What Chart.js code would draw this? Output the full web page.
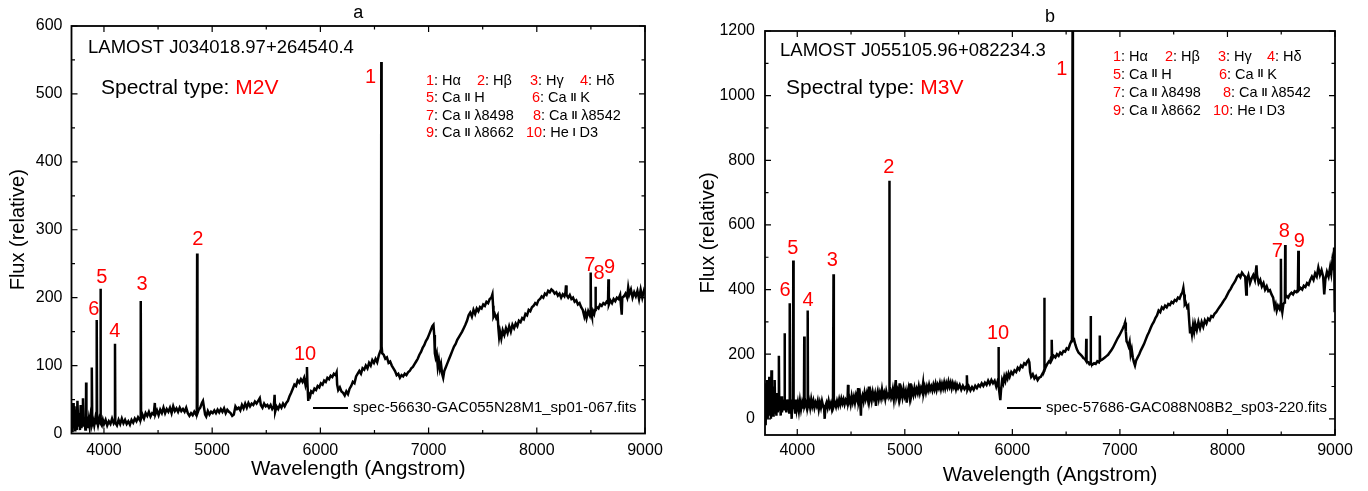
<!DOCTYPE html>
<html>
<head>
<meta charset="utf-8">
<script src="https://cdn.jsdelivr.net/npm/chart.js@4.4.1/dist/chart.umd.min.js"></script>
<style>
  html, body { margin: 0; padding: 0; background: #fff; }
  #wrap { position: relative; width: 1368px; height: 491px; }
  canvas { position: absolute; top: 0; }
  #chartA { left: 0; }
  #chartB { left: 684px; }
</style>
</head>
<body>
<div id="wrap">
  <canvas id="chartA" width="684" height="491"></canvas>
  <canvas id="chartB" width="684" height="491"></canvas>
</div>
<script>
// ── Data ────────────────────────────────────────────────────────────────
const X_MAJOR = [4000, 5000, 6000, 7000, 8000, 9000];
const X_MINOR = [4500, 5500, 6500, 7500, 8500];
const Y_MAJOR_A = [0, 100, 200, 300, 400, 500, 600];
const Y_MINOR_A = [50, 150, 250, 350, 450, 550];
const Y_MAJOR_B = [0, 200, 400, 600, 800, 1000, 1200];
const Y_MINOR_B = [100, 300, 500, 700, 900, 1100];

// Panel a: LAMOST J034018.97+264540.4
const waveA = [
  3700, 3705, 3710, 3715, 3720, 3728, 3735, 3742, 3748, 3755, 3762, 3770, 3778, 3785, 3792, 3800,
  3806, 3812, 3820, 3828, 3833, 3835, 3838, 3845, 3852, 3860, 3868, 3875, 3882, 3886, 3889, 3892,
  3900, 3910, 3920, 3928, 3932, 3934, 3937, 3945, 3955, 3962, 3966, 3968, 3971, 3980, 3990,
  4000, 4015, 4030, 4045, 4060, 4075, 4090, 4100, 4102, 4105, 4120, 4135, 4150, 4165, 4180, 4195,
  4210, 4225, 4240, 4255, 4270, 4285, 4300, 4315, 4330, 4338, 4340, 4343, 4355, 4370, 4385,
  4400, 4415, 4430, 4445, 4460, 4470, 4475, 4490, 4505, 4520, 4535, 4550, 4565, 4580, 4595,
  4610, 4625, 4640, 4655, 4670, 4685, 4700, 4715, 4730, 4745, 4760, 4775, 4790, 4805, 4820, 4835,
  4850, 4858, 4861, 4864, 4875, 4890, 4905, 4915, 4925, 4935, 4945, 4960, 4975, 4990,
  5005, 5020, 5035, 5050, 5065, 5080, 5095, 5110, 5125, 5140, 5155, 5170, 5185, 5200, 5215, 5230,
  5245, 5260, 5275, 5290, 5305, 5320, 5335, 5350, 5365, 5380, 5395, 5410, 5425, 5440, 5450, 5465,
  5480, 5495, 5510, 5525, 5540, 5555, 5570, 5577, 5582, 5595, 5610, 5625, 5640, 5655, 5670, 5685,
  5700, 5715, 5730, 5745, 5760, 5775, 5790, 5805, 5820, 5835, 5850, 5862, 5872, 5876, 5880, 5888,
  5895, 5905, 5915, 5930, 5945, 5960, 5975, 5990, 6005, 6020, 6035, 6050, 6065, 6080, 6095, 6110,
  6125, 6140, 6150, 6155, 6165, 6180, 6195, 6210, 6225, 6240, 6255, 6270, 6285, 6300, 6315, 6330,
  6345, 6360, 6375, 6390, 6405, 6420, 6435, 6450, 6465, 6480, 6495, 6510, 6525, 6540, 6555, 6560,
  6563, 6566, 6572, 6585, 6600, 6615, 6630, 6645, 6660, 6675, 6690, 6705, 6720, 6735, 6750, 6765,
  6780, 6795, 6810, 6825, 6840, 6855, 6870, 6885, 6900, 6915, 6930, 6945, 6960, 6975, 6990, 7005,
  7020, 7035, 7045, 7052, 7058, 7065, 7075, 7085, 7095, 7105, 7115, 7125, 7135, 7145, 7160, 7175,
  7190, 7205, 7220, 7235, 7250, 7265, 7280, 7295, 7310, 7325, 7340, 7355, 7370, 7385, 7400, 7415,
  7430, 7445, 7460, 7475, 7490, 7505, 7520, 7535, 7550, 7565, 7580, 7590, 7596, 7600, 7612, 7625,
  7638, 7645, 7652, 7660, 7672, 7685, 7700, 7715, 7730, 7745, 7760, 7775, 7790, 7805, 7820, 7835,
  7850, 7865, 7880, 7895, 7910, 7925, 7940, 7955, 7970, 7985, 8000, 8015, 8030, 8045, 8060, 8075,
  8090, 8105, 8120, 8135, 8150, 8165, 8180, 8195, 8210, 8225, 8240, 8255, 8265, 8270, 8275, 8290,
  8305, 8320, 8335, 8350, 8365, 8380, 8395, 8410, 8425, 8440, 8450, 8460, 8475, 8490, 8496, 8498,
  8501, 8510, 8520, 8530, 8538, 8542, 8546, 8555, 8570, 8585, 8600, 8615, 8630, 8645, 8658, 8662,
  8666, 8680, 8695, 8710, 8725, 8740, 8755, 8770, 8785, 8790, 8805, 8820, 8835, 8845, 8855, 8870,
  8885, 8900, 8915, 8930, 8945, 8960, 8975, 8990, 9000
];
const fluxA = [
  5, 30, 2, 45, 8, 40, 3, 35, 5, 48, 10, 30, 5, 42, 8, 28,
  52, 10, 22, 6, 15, 75, 12, 25, 8, 20, 10, 22, 12, 18, 97, 15,
  20, 12, 22, 15, 20, 167, 18, 12, 20, 14, 18, 213, 15, 12, 20,
  14, 20, 12, 18, 14, 22, 15, 18, 132, 16, 12, 20, 14, 22, 15, 20,
  14, 18, 13, 20, 16, 22, 18, 24, 20, 24, 195, 22, 28, 22, 30,
  26, 32, 25, 30, 28, 45, 28, 34, 27, 35, 30, 38, 30, 36, 32,
  38, 30, 40, 33, 37, 32, 38, 33, 36, 32, 38, 30, 26, 30, 27, 32,
  28, 32, 265, 30, 35, 38, 45, 48, 38, 28, 25, 33, 28, 32,
  30, 34, 30, 35, 31, 36, 32, 37, 30, 35, 32, 30, 26, 28, 40, 36,
  38, 34, 42, 37, 44, 38, 45, 40, 44, 42, 47, 44, 48, 52, 42, 38,
  44, 40, 42, 38, 42, 36, 40, 57, 32, 40, 36, 42, 38, 44, 40, 45,
  48, 55, 60, 66, 72, 70, 78, 75, 80, 76, 82, 72, 80, 98, 75, 48,
  58, 55, 62, 60, 66, 64, 70, 68, 74, 72, 78, 76, 82, 80, 85, 83,
  88, 86, 90, 72, 64, 68, 62, 60, 56, 62, 58, 66, 70, 76, 74, 84,
  88, 92, 88, 96, 94, 100, 96, 104, 100, 108, 104, 110, 105, 115, 122, 126,
  547, 128, 118, 116, 110, 112, 104, 106, 100, 96, 92, 86, 88, 82, 86, 84,
  88, 86, 90, 92, 96, 98, 102, 106, 110, 116, 120, 126, 130, 136, 140, 146,
  152, 158, 160, 145, 118, 112, 118, 98, 108, 95, 102, 88, 82, 92, 98, 104,
  110, 116, 122, 128, 132, 138, 142, 146, 150, 155, 160, 166, 174, 178, 172, 182,
  176, 184, 180, 186, 184, 190, 188, 194, 192, 198, 200, 205, 188, 172, 176, 170,
  174, 155, 142, 150, 140, 152, 145, 155, 148, 158, 150, 160, 155, 162, 158, 166,
  164, 170, 168, 176, 174, 182, 180, 186, 188, 192, 190, 196, 198, 202, 200, 206,
  204, 210, 208, 212, 210, 206, 208, 203, 206, 200, 205, 202, 208, 218, 204, 200,
  204, 198, 200, 194, 196, 190, 192, 186, 182, 172, 178, 170, 180, 174, 180, 237,
  178, 172, 180, 176, 182, 216, 184, 186, 184, 190, 188, 192, 190, 194, 192, 227,
  190, 196, 192, 198, 195, 200, 198, 204, 175, 200, 202, 206, 200, 215, 205, 212,
  200, 208, 202, 210, 198, 212, 200, 210, 205
];

// Panel b: LAMOST J055105.96+082234.3
const waveB = [
  3700, 3704, 3708, 3712, 3716, 3720, 3725, 3730, 3735, 3740, 3745, 3750, 3755, 3760, 3765, 3770,
  3775, 3780, 3785, 3790, 3795, 3800, 3806, 3812, 3818, 3824, 3828, 3830, 3833, 3840, 3846, 3852,
  3858, 3864, 3870, 3876, 3880, 3882, 3885, 3892, 3898, 3905, 3912, 3918, 3925, 3929, 3931, 3934,
  3942, 3948, 3954, 3960, 3963, 3966, 3972, 3980, 3988, 3995, 4005, 4015, 4025, 4035, 4045, 4055,
  4062, 4065, 4068, 4078, 4088, 4094, 4097, 4100, 4110, 4120, 4130, 4140, 4150, 4160, 4170, 4180,
  4190, 4200, 4210, 4220, 4230, 4240, 4250, 4255, 4262, 4272, 4282, 4292, 4302, 4312, 4322, 4332,
  4337, 4340, 4350, 4360, 4370, 4380, 4390, 4400, 4410, 4420, 4430, 4440, 4450, 4460, 4468, 4472,
  4476, 4486, 4496, 4506, 4516, 4526, 4536, 4546, 4556, 4566, 4572, 4582, 4592, 4596, 4606, 4616,
  4626, 4636, 4646, 4656, 4666, 4672, 4682, 4692, 4702, 4712, 4722, 4732, 4738, 4748, 4758, 4768,
  4778, 4788, 4798, 4808, 4818, 4828, 4838, 4848, 4853, 4856, 4859, 4868, 4878, 4888, 4898, 4908,
  4916, 4922, 4932, 4942, 4952, 4958, 4968, 4978, 4988, 4998, 5008, 5018, 5024, 5034, 5044, 5054,
  5060, 5070, 5080, 5090, 5100, 5110, 5120, 5130, 5140, 5150, 5160, 5170, 5176, 5186, 5196, 5206,
  5216, 5226, 5236, 5246, 5256, 5266, 5276, 5286, 5296, 5306, 5316, 5326, 5336, 5346, 5356, 5366,
  5376, 5386, 5396, 5406, 5416, 5426, 5436, 5446, 5456, 5466, 5476, 5486, 5496, 5510, 5525, 5540,
  5555, 5570, 5577, 5582, 5595, 5610, 5625, 5640, 5655, 5670, 5685, 5700, 5715, 5730, 5745, 5760,
  5775, 5790, 5805, 5820, 5835, 5850, 5862, 5868, 5871, 5874, 5880, 5888, 5895, 5905, 5915, 5925,
  5935, 5945, 5955, 5965, 5975, 5990, 6005, 6020, 6035, 6050, 6065, 6080, 6095, 6110, 6125, 6140,
  6150, 6158, 6165, 6175, 6190, 6205, 6220, 6235, 6250, 6265, 6280, 6290, 6295, 6297, 6300, 6310,
  6325, 6340, 6350, 6360, 6366, 6370, 6385, 6400, 6415, 6430, 6445, 6460, 6475, 6490, 6505, 6520,
  6535, 6548, 6554, 6560, 6563, 6566, 6572, 6585, 6600, 6615, 6630, 6645, 6660, 6675, 6684, 6687,
  6690, 6705, 6715, 6725, 6728, 6731, 6745, 6760, 6775, 6790, 6805, 6810, 6813, 6816, 6830, 6845,
  6860, 6875, 6890, 6905, 6920, 6935, 6950, 6965, 6980, 6995, 7010, 7025, 7040, 7048, 7055, 7062,
  7070, 7080, 7090, 7100, 7110, 7120, 7130, 7140, 7150, 7165, 7180, 7195, 7210, 7225, 7240, 7255,
  7270, 7285, 7300, 7315, 7330, 7345, 7360, 7375, 7390, 7405, 7420, 7435, 7450, 7465, 7480, 7495,
  7510, 7525, 7540, 7555, 7570, 7580, 7590, 7597, 7603, 7612, 7625, 7635, 7645, 7652, 7660, 7670,
  7680, 7690, 7700, 7715, 7730, 7745, 7760, 7775, 7790, 7805, 7820, 7835, 7850, 7865, 7880, 7895,
  7910, 7925, 7940, 7955, 7970, 7985, 8000, 8015, 8030, 8045, 8060, 8075, 8090, 8105, 8120, 8135,
  8150, 8165, 8175, 8180, 8195, 8210, 8225, 8240, 8255, 8265, 8270, 8275, 8290, 8305, 8320, 8335,
  8350, 8365, 8380, 8395, 8410, 8425, 8438, 8448, 8458, 8470, 8485, 8494, 8497, 8500, 8510, 8520,
  8530, 8534, 8537, 8540, 8550, 8565, 8580, 8595, 8610, 8625, 8640, 8655, 8659, 8663, 8680, 8695,
  8710, 8725, 8740, 8755, 8770, 8785, 8800, 8815, 8830, 8845, 8860, 8875, 8890, 8900, 8910, 8925,
  8940, 8955, 8965, 8975, 8985, 8992, 8997, 9000
];
const fluxB = [
  20, 110, -20, 90, 10, 120, 0, 100, 20, 130, 10, 80, 0, 150, 20, 100,
  10, 70, 30, 120, 20, 60, 10, 80, 20, 50, 30, 195, 25, 60, 10, 70,
  20, 50, 30, 60, 30, 265, 30, 55, 20, 60, 30, 50, 20, 40, 358, 30,
  50, 0, 60, 30, 490, 30, 50, 20, 60, 30, 50, 25, 55, 30, 50, 35,
  45, 255, 40, 50, 35, 55, 335, 40, 55, 35, 60, 40, 55, 35, 50, 40,
  55, 30, 50, 35, 55, 40, 30, 0, 40, 50, 35, 55, 38, 48, 30, 45,
  447, 40, 50, 38, 55, 42, 60, 45, 62, 48, 60, 45, 58, 50, 65, 105,
  50, 62, 45, 70, 52, 68, 50, 72, 60, 95, 55, 70, 10, 60, 72, 55,
  80, 62, 78, 60, 100, 60, 80, 58, 82, 65, 78, 40, 70, 85, 62, 80,
  65, 90, 68, 80, 62, 85, 70, 78, 80, 737, 75, 85, 70, 90, 62, 95,
  120, 70, 85, 65, 110, 70, 88, 68, 92, 72, 85, 50, 80, 95, 70, 110,
  72, 90, 75, 95, 78, 92, 80, 100, 80, 95, 85, 110, 82, 98, 82, 100,
  88, 105, 90, 100, 88, 105, 92, 108, 90, 105, 95, 110, 92, 108, 95, 112,
  95, 110, 98, 115, 100, 112, 95, 110, 98, 108, 92, 105, 95, 105, 90, 102,
  92, 100, 135, 90, 100, 88, 98, 90, 102, 95, 105, 100, 110, 102, 112, 105,
  118, 108, 120, 110, 118, 100, 115, 110, 222, 100, 80, 58, 90, 120, 110, 130,
  118, 135, 125, 140, 130, 145, 138, 150, 145, 158, 152, 165, 160, 172, 168, 178,
  182, 175, 145, 130, 138, 125, 132, 120, 128, 130, 140, 145, 150, 375, 150, 160,
  170, 178, 175, 190, 245, 185, 195, 190, 200, 195, 205, 200, 210, 208, 218, 215,
  230, 240, 250, 1240, 255, 250, 248, 230, 215, 205, 200, 195, 188, 185, 180, 248,
  178, 175, 170, 175, 318, 172, 168, 172, 170, 178, 175, 180, 258, 180, 182, 186,
  190, 194, 198, 205, 212, 220, 230, 240, 250, 258, 268, 278, 290, 298, 270, 240,
  235, 225, 238, 200, 215, 190, 175, 165, 180, 190, 200, 212, 222, 232, 245, 258,
  268, 280, 292, 300, 312, 320, 335, 330, 345, 340, 350, 345, 355, 352, 362, 358,
  368, 365, 375, 372, 385, 390, 405, 385, 355, 360, 345, 350, 300, 268, 285, 262,
  290, 270, 295, 275, 300, 280, 300, 285, 305, 295, 310, 305, 318, 315, 325, 330,
  338, 345, 352, 360, 368, 375, 385, 395, 402, 412, 420, 428, 440, 445, 438, 452,
  445, 440, 385, 430, 445, 420, 435, 445, 430, 460, 475, 445, 420, 430, 410, 420,
  400, 410, 395, 398, 385, 375, 345, 355, 335, 350, 340, 355, 495, 350, 330, 355,
  360, 370, 538, 375, 380, 375, 385, 390, 385, 395, 392, 400, 520, 398, 405, 400,
  412, 408, 420, 415, 430, 440, 430, 450, 440, 468, 445, 460, 440, 385, 430, 455,
  440, 470, 450, 485, 460, 530, 330, 420
];

// Line identification labels: text, wavelength, flux (label centre)
const labelTextA = ['1', '2', '3', '4', '5', '6', '7', '8', '9', '10'];
const labelWaveA = [6464, 4868, 4351, 4101, 3980, 3907, 8491, 8576, 8673, 5858];
const labelFluxA = [524, 286, 219, 150, 229, 182, 248, 235, 244, 116];
const labelTextB = ['1', '2', '3', '4', '5', '6', '7', '8', '9', '10'];
const labelWaveB = [6459, 4852, 4325, 4101, 3959, 3886, 8464, 8529, 8667, 5867];
const labelFluxB = [1081, 779, 491, 366, 527, 397, 518, 579, 549, 264];

// Key of line identifications (the roman numeral sits between bars)
const keyRows = [
  [['1', 'Hα'], ['2', 'Hβ'], ['3', 'Hγ'], ['4', 'Hδ']],
  [['5', 'Ca |II| H'], ['6', 'Ca |II| K']],
  [['7', 'Ca |II| λ8498'], ['8', 'Ca |II| λ8542']],
  [['9', 'Ca |II| λ8662'], ['10', 'He |I| D3']],
];

const FAMILY = "'Liberation Sans', Arial, Helvetica, sans-serif";
const RED = '#ff0000';

// ── Drawing helpers ─────────────────────────────────────────────────────
function drawRuns(ctx, x, y, runs) {
  runs.forEach(([text, color, font]) => {
    ctx.font = font;
    ctx.fillStyle = color;
    ctx.fillText(text, x, y);
    x += ctx.measureText(text).width;
  });
}

function keyRuns(num, label) {
  const runs = [[num, RED, `14.5px ${FAMILY}`], [': ', '#000', `14.5px ${FAMILY}`]];
  label.split('|').forEach((part, i) => {
    if (!part) return;
    runs.push([part, '#000', i % 2 ? `bold 10px ${FAMILY}` : `14.5px ${FAMILY}`]);
  });
  return runs;
}

function decorPlugin(opt) {
  return {
    id: 'decor',
    afterDraw(chart) {
      const { ctx, chartArea: a, scales: { x, y } } = chart;
      ctx.save();

      // frame
      ctx.strokeStyle = '#000';
      ctx.lineWidth = 1.8;
      ctx.strokeRect(a.left, a.top, a.right - a.left, a.bottom - a.top);

      // inward ticks on all four sides
      ctx.lineWidth = 1.2;
      ctx.beginPath();
      const xt = X_MAJOR.map(v => [v, 6]).concat(X_MINOR.map(v => [v, 3.5]));
      xt.forEach(([v, len]) => {
        const px = x.getPixelForValue(v);
        ctx.moveTo(px, a.bottom); ctx.lineTo(px, a.bottom - len);
        ctx.moveTo(px, a.top); ctx.lineTo(px, a.top + len);
      });
      const yt = opt.yMajor.map(v => [v, 6]).concat(opt.yMinor.map(v => [v, 3.5]));
      yt.forEach(([v, len]) => {
        const py = y.getPixelForValue(v);
        ctx.moveTo(a.left, py); ctx.lineTo(a.left + len, py);
        ctx.moveTo(a.right, py); ctx.lineTo(a.right - len, py);
      });
      ctx.stroke();

      ctx.textBaseline = 'middle';

      // panel letter
      ctx.textAlign = 'center';
      ctx.fillStyle = '#000';
      ctx.font = `18px ${FAMILY}`;
      ctx.fillText(opt.letter, (a.left + a.right) / 2, opt.letterY);

      // red line numbers at data positions
      ctx.font = `20px ${FAMILY}`;
      ctx.fillStyle = RED;
      opt.labelText.forEach((t, i) => {
        ctx.fillText(t, x.getPixelForValue(opt.labelWave[i]), y.getPixelForValue(opt.labelFlux[i]));
      });

      ctx.textAlign = 'left';
      // star name and spectral type
      drawRuns(ctx, opt.name[0], opt.name[1], [[opt.star, '#000', `18.5px ${FAMILY}`]]);
      drawRuns(ctx, opt.type[0], opt.type[1], [
        ['Spectral type: ', '#000', `21px ${FAMILY}`],
        [opt.spType, RED, `21px ${FAMILY}`],
      ]);

      // key of lines
      keyRows.forEach((row, r) => {
        row.forEach(([num, label], c) => {
          drawRuns(ctx, opt.keyCols[r][c], opt.keyRowsY[r], keyRuns(num, label));
        });
      });

      // legend
      ctx.strokeStyle = '#000';
      ctx.lineWidth = 2;
      ctx.beginPath();
      ctx.moveTo(opt.legend[0], opt.legend[2]);
      ctx.lineTo(opt.legend[1], opt.legend[2]);
      ctx.stroke();
      drawRuns(ctx, opt.legend[1] + 5, opt.legend[2], [[opt.file, '#000', `15px ${FAMILY}`]]);

      ctx.restore();
    },
  };
}

function drawSpectrum(canvasId, wave, flux, opt) {
  const points = wave.map((w, i) => ({ x: w, y: flux[i] }));
  return new Chart(document.getElementById(canvasId), {
    type: 'line',
    data: {
      datasets: [{
        data: points,
        borderColor: '#000',
        borderWidth: 2.5,
        pointRadius: 0,
        tension: 0,
        fill: false,
      }],
    },
    options: {
      responsive: false,
      animation: false,
      layout: { padding: opt.padding },
      plugins: { legend: { display: false }, tooltip: { enabled: false } },
      scales: {
        x: {
          type: 'linear',
          min: 3700,
          max: 9000,
          afterBuildTicks: s => { s.ticks = X_MAJOR.map(v => ({ value: v })); },
          afterFit: s => { s.height = opt.xHeight; },
          grid: { display: false, drawTicks: false },
          border: { display: false },
          ticks: {
            color: '#000', font: { family: FAMILY, size: 16 }, padding: opt.xTickPad,
            maxRotation: 0, autoSkip: false, callback: v => String(v),
          },
          title: {
            display: true, text: 'Wavelength (Angstrom)', color: '#000',
            font: { family: FAMILY, size: 20.5 }, padding: { top: 0, bottom: opt.xTitlePad },
          },
        },
        y: {
          min: opt.yMin,
          max: opt.yMax,
          afterBuildTicks: s => { s.ticks = opt.yMajor.map(v => ({ value: v })); },
          afterFit: s => { s.width = opt.yWidth; },
          grid: { display: false, drawTicks: false },
          border: { display: false },
          ticks: { color: '#000', font: { family: FAMILY, size: 16 }, padding: opt.yTickPad, callback: v => String(v) },
          title: {
            display: true, text: 'Flux (relative)', color: '#000',
            font: { family: FAMILY, size: 20 }, padding: { top: opt.yTitlePad, bottom: 0 },
          },
        },
      },
    },
    plugins: [decorPlugin(opt)],
  });
}

// ── Panels ──────────────────────────────────────────────────────────────
drawSpectrum('chartA', waveA, fluxA, {
  padding: { left: 0, right: 39, top: 26, bottom: 0 },
  yWidth: 71.5, xHeight: 57.5, xTickPad: 7, yTickPad: 9, xTitlePad: 9, yTitlePad: 6,
  yMin: 0, yMax: 600, yMajor: Y_MAJOR_A, yMinor: Y_MINOR_A,
  letter: 'a', letterY: 13,
  labelText: labelTextA, labelWave: labelWaveA, labelFlux: labelFluxA,
  star: 'LAMOST J034018.97+264540.4', name: [88, 48],
  spType: 'M2V', type: [101, 88],
  keyCols: [[426, 477, 530, 580], [426, 532], [426, 533], [426, 526]],
  keyRowsY: [81, 98, 116, 133],
  legend: [313, 348, 408], file: 'spec-56630-GAC055N28M1_sp01-067.fits',
});

drawSpectrum('chartB', waveB, fluxB, {
  padding: { left: 0, right: 33, top: 31, bottom: 0 },
  yWidth: 81, xHeight: 56, xTickPad: 6, yTickPad: 10, xTitlePad: 3, yTitlePad: 12,
  yMin: -50, yMax: 1200, yMajor: Y_MAJOR_B, yMinor: Y_MINOR_B,
  letter: 'b', letterY: 17,
  labelText: labelTextB, labelWave: labelWaveB, labelFlux: labelFluxB,
  star: 'LAMOST J055105.96+082234.3', name: [96, 51],
  spType: 'M3V', type: [102, 88],
  keyCols: [[429, 481, 534, 583], [429, 535], [429, 539], [429, 529]],
  keyRowsY: [57, 74.5, 93, 111],
  legend: [323, 357, 408], file: 'spec-57686-GAC088N08B2_sp03-220.fits',
});
</script>
</body>
</html>
